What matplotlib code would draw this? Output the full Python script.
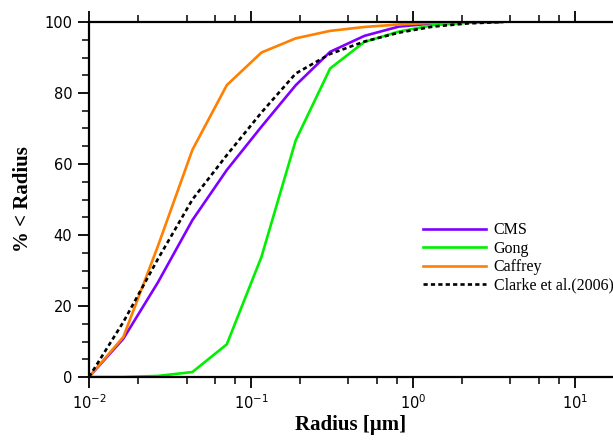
import numpy as np
import matplotlib
matplotlib.use("Agg")
import matplotlib.pyplot as plt
from matplotlib.ticker import LogLocator, MultipleLocator

plt.rcParams['mathtext.fontset'] = 'dejavusans'
plt.rcParams['mathtext.default'] = 'regular'

# radius grid (um) and cumulative % below radius
radius = [0.01, 0.0163, 0.0266, 0.0435, 0.0709, 0.116, 0.189, 0.308, 0.502, 0.818, 1.33, 2.18, 3.55]
cms = [0, 10.8, 26.6, 44.2, 58.3, 70.5, 82.2, 91.6, 96.1, 98.7, 99.6, 100, 100]
gong = [0, 0.0, 0.3, 1.4, 9.2, 33.8, 66.7, 86.9, 94.4, 97.3, 99.1, 99.8, 100]
caffrey = [0, 11.3, 36.8, 64.0, 82.2, 91.4, 95.4, 97.5, 98.6, 99.3, 99.8, 100, 100]
clarke = [0, 15.5, 33.2, 50.0, 62.5, 74.5, 85.5, 91.0, 94.5, 97.0, 98.7, 99.6, 100]

fig = plt.figure(figsize=(6.13, 4.41), dpi=100)
ax = fig.add_axes([89 / 613, 1 - 377 / 441, 1 - 89 / 613, (377 - 22) / 441])

ax.plot(radius, cms, color='#8000ff', lw=1.9, label='CMS')
ax.plot(radius, gong, color='#00f000', lw=1.9, label='Gong')
ax.plot(radius, caffrey, color='#ff8000', lw=1.9, label='Caffrey')
ax.plot(radius, clarke, color='black', lw=1.9, ls=(0, (1.6, 1.2)), label='Clarke et al.(2006)')

ax.set_xscale('log')
ax.set_xlim(0.01, 10 ** 1.235)
ax.set_ylim(0, 100)

ax.xaxis.set_major_locator(LogLocator(base=10, numticks=10))
ax.xaxis.set_minor_locator(LogLocator(base=10, subs=[2, 4, 6, 8], numticks=10))
ax.yaxis.set_major_locator(MultipleLocator(20))
ax.yaxis.set_minor_locator(MultipleLocator(5))

for side in ['left', 'bottom', 'top']:
    ax.spines[side].set_linewidth(1.6)
ax.spines['right'].set_visible(False)

ax.tick_params(which='major', direction='out', length=8, width=1.3, labelsize=10.5, pad=4)
ax.tick_params(which='minor', direction='out', length=5, width=1.1)
ax.tick_params(axis='x', which='both', top=True)
for lab in ax.get_xticklabels() + ax.get_yticklabels():
    lab.set_family('DejaVu Sans')

ax.set_xlabel('Radius [μm]', family='Liberation Serif', fontweight='bold', fontsize=15, labelpad=2)
ax.set_ylabel('% < Radius', family='Liberation Serif', fontweight='bold', fontsize=15, labelpad=8)

ax.legend(loc='upper left', bbox_to_anchor=(417 / 613, 1 - 216 / 441), bbox_transform=fig.transFigure,
          frameon=False, prop={'family': 'Liberation Serif', 'size': 11.5},
          handlelength=3.9, handletextpad=0.5, labelspacing=0.15, borderaxespad=0)

fig.savefig('out.png', dpi=100)
